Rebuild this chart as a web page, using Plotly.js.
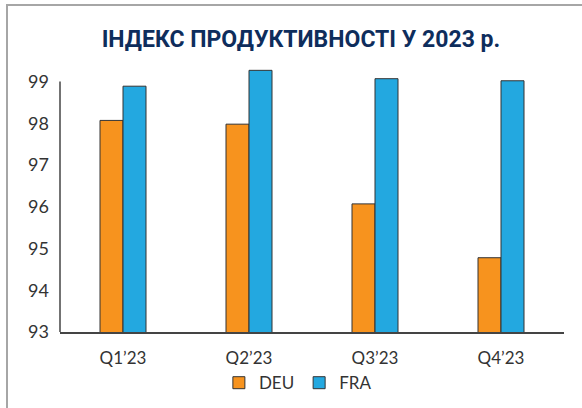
<!DOCTYPE html>
<html>
<head>
<meta charset="utf-8">
<script src="https://cdn.plot.ly/plotly-3.0.1.min.js"></script>
<style>
  html, body { margin: 0; padding: 0; background: #fff; }
  #wrap { position: relative; width: 582px; height: 408px; overflow: hidden; }
  #frame { position: absolute; left: 6px; top: 4px; width: 600px; height: 420px;
           border-left: 2px solid #a6a6a6; border-top: 2px solid #a6a6a6; pointer-events: none; }
  #chart { position: absolute; left: 0; top: 0; width: 582px; height: 408px; }
</style>
</head>
<body>
<div id="wrap">
  <div id="chart"></div>
  <div id="frame"></div>
</div>
<script>
const titleText = 'ІНДЕКС ПРОДУКТИВНОСТІ У 2023 р.';
const categories = ['Q1’23', 'Q2’23', 'Q3’23', 'Q4’23'];
const deuValues = [98.07, 97.98, 96.07, 94.78];
const fraValues = [98.89, 99.27, 99.07, 99.02];
const yTicks = [93, 94, 95, 96, 97, 98, 99];

const font = 'Lato, "Liberation Sans", Arial, sans-serif';

const traces = [
  { type: 'bar', name: 'DEU', x: categories, y: deuValues,
    marker: { color: '#F7931E', line: { color: '#333333', width: 1 } } },
  { type: 'bar', name: 'FRA', x: categories, y: fraValues,
    marker: { color: '#23A8E0', line: { color: '#333333', width: 1 } } }
];

const layout = {
  width: 582, height: 408,
  margin: { l: 60, r: 18, t: 67.4, b: 76, autoexpand: false },
  paper_bgcolor: '#fff', plot_bgcolor: '#fff',
  barmode: 'group', bargap: 0.635, bargroupgap: 0,
  title: { text: '<b>' + titleText + '</b>', font: { family: '"Liberation Sans Narrow", "Roboto", sans-serif', size: 23, color: '#0e2d5c' },
           x: 0.517, xanchor: 'center', xref: 'container', y: 1 - 39/408, yanchor: 'middle', yref: 'container' },
  font: { family: font, size: 17, color: '#333' },
  xaxis: { type: 'category', showline: true, linecolor: '#444', linewidth: 1.5, ticks: '', showgrid: false,
           tickfont: { family: font, size: 17, color: '#333' }, ticklabelstandoff: 10, automargin: false },
  yaxis: { range: [93, 99.35], tickvals: yTicks, showline: false, ticks: '', automargin: false,
           showgrid: false, zeroline: false, tickfont: { family: font, size: 18, color: '#333' }, ticklabelstandoff: 10 },
  shapes: [
    { type: 'line', xref: 'paper', yref: 'y', x0: 0, x1: 0, y0: 93, y1: yTicks[yTicks.length - 1],
      line: { color: '#444', width: 1.5 } }
  ],
  showlegend: true,
  legend: { orientation: 'h', x: 0.472, xanchor: 'center', y: -0.193, yanchor: 'middle',
            font: { family: font, size: 17, color: '#333' }, itemwidth: 30, traceorder: 'normal' }
};

Plotly.newPlot('chart', traces, layout, { displayModeBar: false, staticPlot: true });
</script>
</body>
</html>
